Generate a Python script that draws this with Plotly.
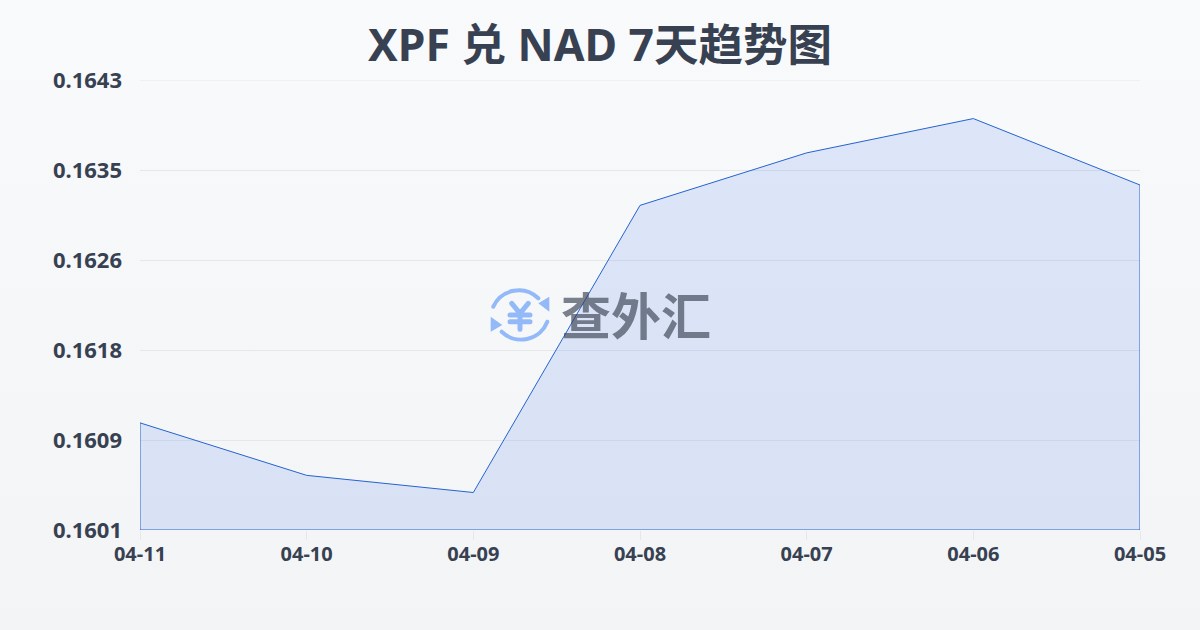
import base64
import plotly.graph_objects as go

dates = ["04-11", "04-10", "04-09", "04-08", "04-07", "04-06", "04-05"]
rates = [0.16110, 0.16061, 0.16045, 0.16313, 0.16362, 0.16394, 0.16332]
y_ticks = [0.1601, 0.16094, 0.16178, 0.16262, 0.16346, 0.1643]
y_labels = ["0.1601", "0.1609", "0.1618", "0.1626", "0.1635", "0.1643"]
title = "XPF 兑 NAD 7天趋势图"
watermark = "查外汇"

FONT = "'Noto Sans', 'Noto Sans CJK SC', sans-serif"
CJK = "'Noto Sans CJK SC', sans-serif"
INK = "#374151"
BLUE = "#2563d0"


def data_uri(svg):
    return "data:image/svg+xml;base64," + base64.b64encode(svg.encode()).decode()


bg_svg = """<svg xmlns='http://www.w3.org/2000/svg' width='1200' height='630'>
<defs><linearGradient id='g' x1='0' y1='0' x2='0' y2='1'>
<stop offset='0' stop-color='#f9fafc'/><stop offset='1' stop-color='#f3f4f6'/>
</linearGradient></defs><rect width='1200' height='630' fill='url(#g)'/></svg>"""

icon_svg = """<svg xmlns='http://www.w3.org/2000/svg' viewBox='0 0 60 60' width='60' height='60'>
<g fill='none' stroke='#93b9f8' stroke-linecap='round' stroke-linejoin='round'>
<path stroke-width='4' d='M3.3 20.7 A28 28 0 0 1 48.3 12.3'/>
<path stroke-width='4' d='M57.3 35.7 A28 28 0 0 1 11.7 45.7'/>
<path stroke-width='5' d='M21.7 17.3 L30 27.3 L38.3 17.3 M30 27.3 V43.3 M20 29 H40 M20 35.7 H40'/>
</g>
<path d='M48.3 17.3 L59.3 10.7 L59.3 25.7 Z' fill='#93b9f8'/>
<path d='M0.7 30.7 L0.7 45.7 L12.3 39 Z' fill='#93b9f8'/>
</svg>"""

floor = y_ticks[0]
x_closed = dates + [dates[-1], dates[0], dates[0]]
y_closed = rates + [floor, floor, rates[0]]

fig = go.Figure(
    go.Scatter(
        x=x_closed,
        y=y_closed,
        mode="lines",
        fill="toself",
        fillcolor="rgba(37,99,235,0.13)",
        line=dict(color=BLUE, width=1),
        hoverinfo="skip",
        showlegend=False,
    )
)

fig.update_layout(
    width=1200,
    height=630,
    autosize=False,
    margin=dict(l=140, r=60, t=80, b=100),
    paper_bgcolor="#f6f7f9",
    plot_bgcolor="rgba(0,0,0,0)",
    font=dict(family=FONT, color=INK),
    title=dict(
        text=f"<b>{title}</b>",
        x=0.5,
        xanchor="center",
        y=1 - 45 / 630,
        yanchor="middle",
        font=dict(size=44.5, color=INK, family=FONT),
    ),
    images=[
        dict(source=data_uri(bg_svg), xref="paper", yref="paper", x=-140 / 1000, y=1 + 80 / 450,
             sizex=1200 / 1000, sizey=630 / 450, xanchor="left", yanchor="top",
             sizing="stretch", layer="below"),
        dict(source=data_uri(icon_svg), xref="paper", yref="paper", x=(490 - 140) / 1000, y=(530 - 286) / 450,
             sizex=60 / 1000, sizey=60 / 450, xanchor="left", yanchor="top",
             sizing="stretch", layer="above"),
    ],
    shapes=[
        dict(type="line", xref="paper", yref="y", x0=0, x1=1, y0=y_ticks[-1], y1=y_ticks[-1],
             line=dict(color="#e5e7eb", width=1), layer="below"),
    ],
    annotations=[
        dict(text=f"<b>{watermark}</b>", xref="paper", yref="paper", x=(636 - 140) / 1000, y=(530 - 313) / 450,
             xanchor="center", yanchor="middle", showarrow=False,
             font=dict(size=50, color="rgba(55,65,81,0.65)", family=CJK)),
    ],
    xaxis=dict(
        type="category",
        categoryorder="array",
        categoryarray=dates,
        range=[0, len(dates) - 1],
        tickvals=dates,
        ticktext=[f"<b>{d}</b>" for d in dates],
        ticks="outside",
        ticklen=9,
        tickwidth=1,
        tickcolor="#e5e7eb",
        showgrid=False,
        zeroline=False,
        showline=False,
        tickfont=dict(size=20, color=INK, family=FONT),
        ticklabelstandoff=-3,
    ),
    yaxis=dict(
        range=[y_ticks[0], y_ticks[-1]],
        tickvals=y_ticks,
        ticktext=[f"<b>{t}</b>" for t in y_labels],
        ticks="",
        showgrid=True,
        gridcolor="#e5e7eb",
        gridwidth=1,
        zeroline=False,
        showline=False,
        tickfont=dict(size=22, color=INK, family=FONT),
        ticklabelstandoff=17,
    ),
)

fig.write_html(
    "out.html",
    config=dict(displayModeBar=False),
    post_script="document.body.style.margin='0';document.documentElement.style.background='#f6f7f9';",
)
